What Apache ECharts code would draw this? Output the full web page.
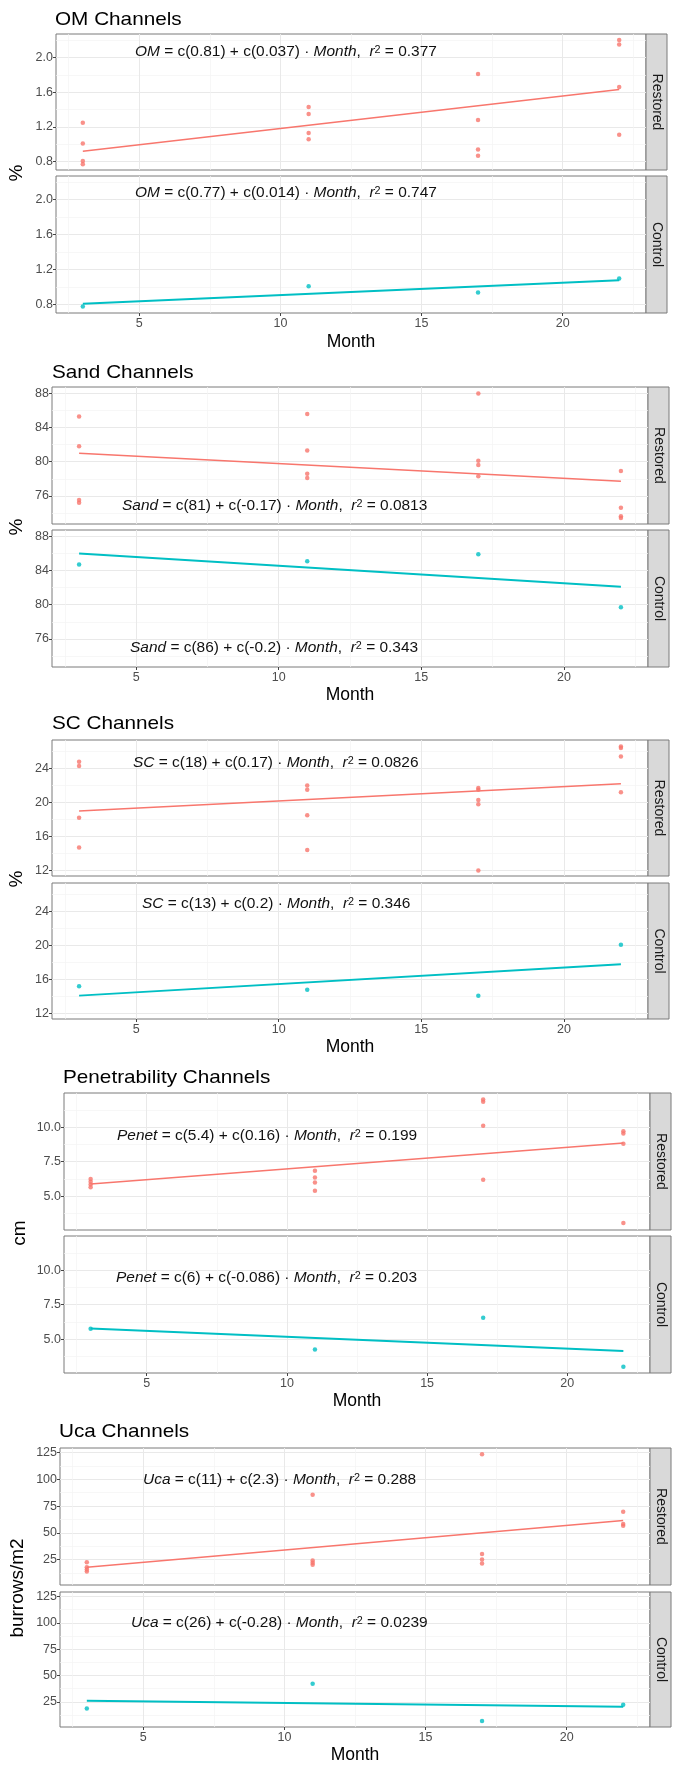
<!DOCTYPE html>
<html><head><meta charset="utf-8">
<script src="https://cdn.jsdelivr.net/npm/echarts@6/dist/echarts.min.js"></script>
<style>html,body{margin:0;padding:0;background:#fff}#c{width:683px;height:1765px}</style>
</head><body><div id="c"></div><script>
// ---------- data ----------
const months = [3, 11, 17, 22];
const fitMonths = [3, 22];
const xTicks = [5, 10, 15, 20];
const xMinor = [2.5, 7.5, 12.5, 17.5, 22.5];
const facetLabels = ['Restored', 'Control'];

const omRestored = [[1.25,1.01,0.81,0.77],[1.43,1.35,1.13,1.06],[1.81,1.28,0.94,0.87],[2.20,2.15,1.66,1.11]];
const omControl = [[0.78],[1.01],[0.94],[1.10]];
const omFitRestored = [0.92, 1.63];
const omFitControl = [0.81, 1.08];
const omTicks = [0.8, 1.2, 1.6, 2.0];
const omMinor = [1.0, 1.4, 1.8, 2.2];

const sandRestored = [[85.3,81.8,75.5,75.2],[85.6,81.3,78.6,78.1],[88.0,80.1,79.6,78.3],[78.9,74.6,73.6,73.4]];
const sandControl = [[84.7],[85.1],[85.9],[79.7]];
const sandFitRestored = [81.0, 77.7];
const sandFitControl = [86.0, 82.1];
const sandTicks = [76, 80, 84, 88];
const sandMinor = [74, 78, 82, 86];

const scRestored = [[24.8,24.3,18.2,14.7],[22.0,21.5,18.5,14.4],[21.7,21.5,20.3,19.8,12.0],[26.6,26.4,25.4,21.2]];
const scControl = [[15.2],[14.8],[14.1],[20.1]];
const scFitRestored = [19.0, 22.2];
const scFitControl = [14.1, 17.8];
const scTicks = [12, 16, 20, 24];
const scMinor = [14, 18, 22, 26];

const penRestored = [[6.25,6.05,5.85,5.65],[6.85,6.35,6.0,5.4],[12.0,11.85,10.1,6.2],[9.7,9.55,8.8,3.05]];
const penControl = [[5.75],[4.25],[6.55],[3.0]];
const penFitRestored = [5.88, 8.86];
const penFitControl = [5.77, 4.15];
const penTicks = [5.0, 7.5, 10.0];
const penMinor = [3.75, 6.25, 8.75, 11.25];

const ucaRestored = [[22.5,17.8,15.7,13.8],[85.6,24.1,22.0,20.1],[123.5,30.3,25.0,21.3],[69.7,58.2,56.7]];
const ucaControl = [[18.8],[42.3],[7.0],[22.2]];
const ucaFitRestored = [17.9, 61.6];
const ucaFitControl = [26.2, 20.4];
const ucaTicks = [25, 50, 75, 100, 125];
const ucaMinor = [12.5, 37.5, 62.5, 87.5, 112.5];

const blocks = [
  {title:'OM Channels', yTitle:'%', R:omRestored, C:omControl, fitR:omFitRestored, fitC:omFitControl, ticks:omTicks, minor:omMinor, min:0.705, max:2.27, dec:1,
   eqR:'{i|OM} = c(0.81) + c(0.037) · {i|Month},  {i|r}{s|2} = 0.377', eqC:'{i|OM} = c(0.77) + c(0.014) · {i|Month},  {i|r}{s|2} = 0.747'},
  {title:'Sand Channels', yTitle:'%', R:sandRestored, C:sandControl, fitR:sandFitRestored, fitC:sandFitControl, ticks:sandTicks, minor:sandMinor, min:72.7, max:88.75, dec:0,
   eqR:'{i|Sand} = c(81) + c(-0.17) · {i|Month},  {i|r}{s|2} = 0.0813', eqC:'{i|Sand} = c(86) + c(-0.2) · {i|Month},  {i|r}{s|2} = 0.343'},
  {title:'SC Channels', yTitle:'%', R:scRestored, C:scControl, fitR:scFitRestored, fitC:scFitControl, ticks:scTicks, minor:scMinor, min:11.35, max:27.35, dec:0,
   eqR:'{i|SC} = c(18) + c(0.17) · {i|Month},  {i|r}{s|2} = 0.0826', eqC:'{i|SC} = c(13) + c(0.2) · {i|Month},  {i|r}{s|2} = 0.346'},
  {title:'Penetrability Channels', yTitle:'cm', R:penRestored, C:penControl, fitR:penFitRestored, fitC:penFitControl, ticks:penTicks, minor:penMinor, min:2.55, max:12.48, dec:1,
   eqR:'{i|Penet} = c(5.4) + c(0.16) · {i|Month},  {i|r}{s|2} = 0.199', eqC:'{i|Penet} = c(6) + c(-0.086) · {i|Month},  {i|r}{s|2} = 0.203'},
  {title:'Uca Channels', yTitle:'burrows/m2', R:ucaRestored, C:ucaControl, fitR:ucaFitRestored, fitC:ucaFitControl, ticks:ucaTicks, minor:ucaMinor, min:1.2, max:129.3, dec:0,
   eqR:'{i|Uca} = c(11) + c(2.3) · {i|Month},  {i|r}{s|2} = 0.288', eqC:'{i|Uca} = c(26) + c(-0.28) · {i|Month},  {i|r}{s|2} = 0.0239'}
];

// ---------- layout ----------
const layout = [
  {left:56, right:646, rT:34, rB:170, cT:176, cB:313, titleX:55, titleY:20, monthY:342, yTX:17, yTY:173, eqR:[135,52], eqC:[135,193]},
  {left:52, right:648, rT:387, rB:524, cT:530, cB:667, titleX:52, titleY:373, monthY:695, yTX:17, yTY:527, eqR:[122,506], eqC:[130,648]},
  {left:52, right:648, rT:740, rB:876, cT:883, cB:1019, titleX:52, titleY:724, monthY:1047, yTX:17, yTY:879, eqR:[133,763], eqC:[142,904]},
  {left:64, right:650, rT:1093, rB:1230, cT:1236, cB:1373, titleX:63, titleY:1078, monthY:1401, yTX:20, yTY:1233, eqR:[117,1136], eqC:[116,1278]},
  {left:60, right:650, rT:1448, rB:1585, cT:1592, cB:1727, titleX:59, titleY:1432, monthY:1755, yTX:18, yTY:1588, eqR:[143,1480], eqC:[131,1623]}
];
const FONT = '"Liberation Sans", Arial, Helvetica, sans-serif';
const X_MIN = 2.05, X_MAX = 22.95;
const COLORS = ['#F8766D', '#00BFC4'];
const STRIP_W = 21;

const grids = [], xAxes = [], yAxes = [], series = [], graphics = [];

blocks.forEach((b, bi) => {
  const L = layout[bi];
  graphics.push({type:'text', x:L.titleX, y:L.titleY, scaleX:1.12, silent:true,
    style:{text:b.title, fontFamily:FONT, fontSize:18.5, fill:'#000', align:'left', verticalAlign:'middle'}});
  graphics.push({type:'text', x:(L.left+L.right)/2, y:L.monthY, silent:true,
    style:{text:'Month', fontFamily:FONT, fontSize:17.5, fill:'#000', align:'center', verticalAlign:'middle'}});
  graphics.push({type:'text', x:L.yTX, y:L.yTY, rotation:Math.PI/2, silent:true,
    style:{text:b.yTitle, fontFamily:FONT, fontSize:19, fill:'#000', align:'center', verticalAlign:'middle'}});

  const panels = [
    {top:L.rT, bot:L.rB, pts:b.R, fit:b.fitR, eq:b.eqR, eqPos:L.eqR},
    {top:L.cT, bot:L.cB, pts:b.C, fit:b.fitC, eq:b.eqC, eqPos:L.eqC}
  ];
  panels.forEach((p, pi) => {
    const gi = grids.length;
    const isBottom = pi === 1;
    const col = COLORS[pi];
    grids.push({left:L.left, top:p.top, width:L.right-L.left, height:p.bot-p.top,
      show:true, borderColor:'#7a7a7a', borderWidth:1, backgroundColor:'#fff'});
    xAxes.push({gridIndex:gi, type:'value', min:X_MIN, max:X_MAX,
      axisLine:{show:false},
      axisTick:{show:isBottom, length:3, lineStyle:{color:'#444'}, customValues:xTicks},
      axisLabel:{show:isBottom, customValues:xTicks, color:'#4d4d4d', fontSize:12.5, fontFamily:FONT, margin:4},
      splitLine:{show:true, lineStyle:{color:'#e9e9e9', width:1}}});
    xAxes.push({gridIndex:gi, type:'value', min:X_MIN, max:X_MAX,
      axisLine:{show:false},
      axisTick:{show:false, customValues:xMinor},
      axisLabel:{show:false, customValues:xMinor},
      splitLine:{show:true, lineStyle:{color:'#f3f3f3', width:0.7}}});
    yAxes.push({gridIndex:gi, type:'value', min:b.min, max:b.max,
      axisLine:{show:false},
      axisTick:{show:true, length:3, lineStyle:{color:'#444'}, customValues:b.ticks},
      axisLabel:{customValues:b.ticks, formatter:(v)=>Number(v).toFixed(b.dec), color:'#4d4d4d', fontSize:12.5, fontFamily:FONT, margin:3},
      splitLine:{show:true, lineStyle:{color:'#e9e9e9', width:1}}});
    yAxes.push({gridIndex:gi, type:'value', min:b.min, max:b.max,
      axisLine:{show:false},
      axisTick:{show:false, customValues:b.minor},
      axisLabel:{show:false, customValues:b.minor},
      splitLine:{show:true, lineStyle:{color:'#f3f3f3', width:0.7}}});

    const data = [];
    months.forEach((m, i) => p.pts[i].forEach(v => data.push([m, v])));
    series.push({type:'scatter', xAxisIndex:2*gi, yAxisIndex:2*gi, data, symbolSize:4.5,
      itemStyle:{color:col}, silent:true, z:2});
    series.push({type:'line', xAxisIndex:2*gi, yAxisIndex:2*gi, data:fitMonths.map((m, i) => [m, p.fit[i]]),
      showSymbol:false, lineStyle:{color:col, width:pi === 1 ? 2 : 1.5}, silent:true, z:3});

    graphics.push({type:'rect', shape:{x:L.right, y:p.top, width:STRIP_W, height:p.bot-p.top}, silent:true,
      style:{fill:'#d9d9d9', stroke:'#7a7a7a', lineWidth:1}});
    graphics.push({type:'text', x:L.right+STRIP_W/2+0.5, y:(p.top+p.bot)/2, rotation:-Math.PI/2, silent:true,
      style:{text:facetLabels[pi], fontFamily:FONT, fontSize:14, fill:'#1a1a1a', align:'center', verticalAlign:'middle'}});
    graphics.push({type:'text', x:p.eqPos[0], y:p.eqPos[1], scaleX:1.03, silent:true, z:10,
      style:{text:p.eq, fontFamily:FONT, fontSize:15, fill:'#111', align:'left', verticalAlign:'middle',
        rich:{
          i:{fontFamily:FONT, fontSize:15, fontStyle:'italic', fill:'#111'},
          s:{fontFamily:FONT, fontSize:10.5, fill:'#111', verticalAlign:'top'}
        }}});
  });
});

const chart = echarts.init(document.getElementById('c'), null, {renderer:'canvas'});
chart.setOption({
  animation:false,
  backgroundColor:'#fff',
  grid:grids, xAxis:xAxes, yAxis:yAxes, series,
  graphic:{elements:graphics}
});
</script></body></html>
